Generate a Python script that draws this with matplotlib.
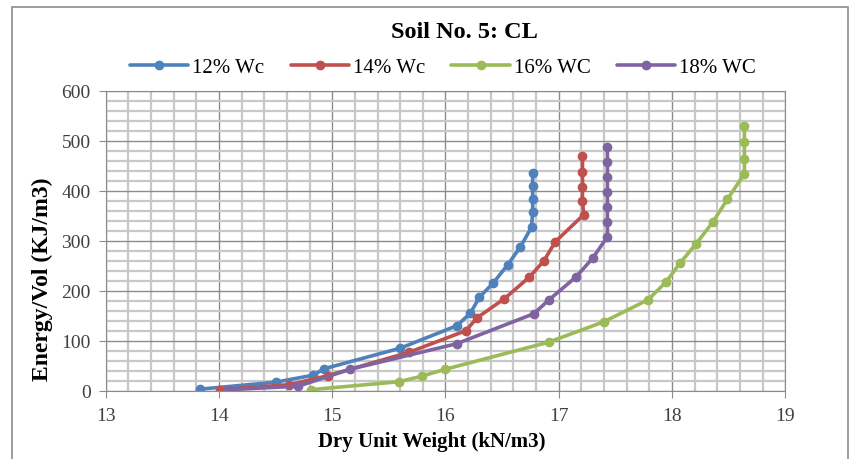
import matplotlib
matplotlib.use("Agg")
import matplotlib.pyplot as plt
from matplotlib.patches import Rectangle
from matplotlib.ticker import MultipleLocator

# values
wc12_x = [13.83, 14.50, 14.83, 14.93, 15.60, 16.10, 16.22, 16.30, 16.42, 16.55, 16.66, 16.76, 16.77, 16.77, 16.77, 16.77]
wc12_y = [3, 17, 31, 44, 85, 130, 155, 187, 215, 252, 287, 327, 357, 384, 410, 436]

wc14_x = [14.01, 14.62, 14.96, 15.68, 16.18, 16.28, 16.52, 16.74, 16.87, 16.97, 17.22, 17.21, 17.21, 17.21, 17.21]
wc14_y = [2, 12, 30, 77, 120, 146, 184, 227, 260, 298, 352, 380, 407, 438, 470]

wc16_x = [14.81, 15.59, 15.79, 16.00, 16.91, 17.40, 17.79, 17.95, 18.07, 18.21, 18.36, 18.49, 18.64, 18.64, 18.64, 18.64]
wc16_y = [2, 18, 29, 43, 97, 138, 182, 218, 255, 293, 337, 383, 434, 464, 497, 530]

wc18_x = [14.08, 14.70, 15.16, 16.10, 16.78, 16.91, 17.15, 17.30, 17.43, 17.43, 17.43, 17.43, 17.43, 17.43, 17.43]
wc18_y = [2, 9, 43, 94, 154, 181, 227, 265, 308, 337, 367, 398, 428, 457, 487]

series = [
    ("12% Wc", wc12_x, wc12_y, "#4F81BD"),
    ("14% Wc", wc14_x, wc14_y, "#C0504D"),
    ("16% WC", wc16_x, wc16_y, "#9BBB59"),
    ("18% WC", wc18_x, wc18_y, "#8064A2"),
]

plt.rcParams["font.family"] = ["Liberation Serif", "DejaVu Serif"]

fig = plt.figure(figsize=(8.6, 4.6), dpi=100)
ax = fig.add_axes([0.123, 0.1485, 0.79, 0.652])

for label, xs, ys, color in series:
    ax.plot(xs, ys, color=color, lw=2.6, marker="o", ms=6, label=label,
            solid_capstyle="round")

ax.set_xlim(13, 19)
ax.set_ylim(0, 600)
ax.xaxis.set_major_locator(MultipleLocator(1))
ax.xaxis.set_minor_locator(MultipleLocator(0.2))
ax.yaxis.set_major_locator(MultipleLocator(100))
ax.yaxis.set_minor_locator(MultipleLocator(20))
ax.grid(which="minor", color="#c8c8c8", lw=1.6)
ax.grid(which="major", color="#8c8c8c", lw=1.0)
ax.set_axisbelow(True)
ax.tick_params(which="major", direction="out", length=5, color="#8c8c8c",
               labelsize=14, labelcolor="#404040")
ax.tick_params(axis="x", pad=7)
ax.tick_params(axis="y", pad=6)
ax.tick_params(which="minor", length=0)
for spine in ax.spines.values():
    spine.set_color("#8c8c8c")

ax.set_xlabel("Dry Unit Weight (kN/m3)", fontsize=15, fontweight="bold")
ax.set_ylabel("Energy/Vol (KJ/m3)", fontsize=17, fontweight="bold")
ax.xaxis.set_label_coords(0.48, -0.135)
ax.yaxis.set_label_coords(-0.077, 0.375)

fig.text(0.540, 0.93, "Soil No. 5: CL", ha="center", va="center",
         fontsize=17.5, fontweight="bold")
fig.legend(loc="center", bbox_to_anchor=(0.515, 0.852), ncol=4, frameon=False,
           fontsize=15, handlelength=2.8, handletextpad=0.2, columnspacing=1.25)

# outer chart frame
fig.patches.append(Rectangle((12 / 860, -0.02), 836 / 860, 1 - 8 / 460 + 0.02,
                             transform=fig.transFigure, fill=False,
                             edgecolor="#8c8c8c", lw=1.2))

fig.savefig("out.png", dpi=100)
